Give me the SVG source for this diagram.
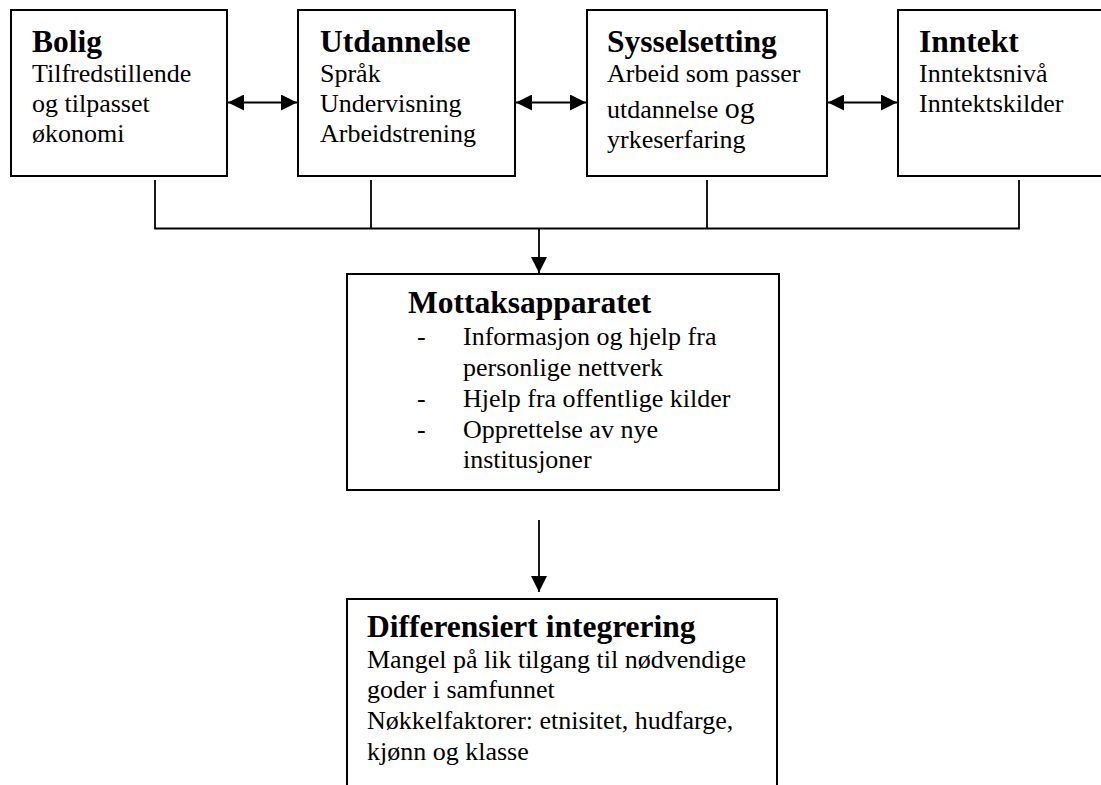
<svg xmlns="http://www.w3.org/2000/svg" width="1101" height="785" viewBox="0 0 1101 785">
<style>
.box{fill:#fff;stroke:#000;stroke-width:2}
.ln{fill:none;stroke:#000;stroke-width:1.8}
.t{font-size:31.5px;font-weight:bold}
.b{font-size:26px}
</style>
<defs>
<marker id="ah2" viewBox="0 0 10 10" refX="10" refY="5" markerWidth="16" markerHeight="16" markerUnits="userSpaceOnUse" orient="auto-start-reverse">
<path d="M0,0 L10,5 L0,10 Z" fill="#000"/>
</marker>
</defs>
<rect width="1101" height="785" fill="#fff"/>
<g id="connectors">
<line class="ln" x1="228" y1="102.5" x2="297" y2="102.5" marker-start="url(#ah2)" marker-end="url(#ah2)"/>
<line class="ln" x1="516" y1="102.5" x2="586" y2="102.5" marker-start="url(#ah2)" marker-end="url(#ah2)"/>
<line class="ln" x1="828" y1="102.5" x2="897" y2="102.5" marker-start="url(#ah2)" marker-end="url(#ah2)"/>
<path class="ln" d="M155,180 V228.5 H1019 V180 M371,180 V228.5 M707,180 V228.5"/>
<line class="ln" x1="539" y1="228.5" x2="539" y2="273" marker-end="url(#ah2)"/>
<line class="ln" x1="539" y1="520" x2="539" y2="592" marker-end="url(#ah2)"/>
</g>
<g font-family="'Liberation Serif', 'Times New Roman', Times, serif" fill="#000">
<g id="bolig">
<rect class="box" x="11" y="10" width="216" height="166"/>
<text class="t" x="32" y="52">Bolig</text>
<text class="b" x="32" y="82">Tilfredstillende</text>
<text class="b" x="32" y="112">og tilpasset</text>
<text class="b" x="32" y="142">økonomi</text>
</g>
<g id="utdannelse">
<rect class="box" x="298" y="10" width="217" height="166"/>
<text class="t" x="320" y="52">Utdannelse</text>
<text class="b" x="320" y="82">Språk</text>
<text class="b" x="320" y="112">Undervisning</text>
<text class="b" x="320" y="142">Arbeidstrening</text>
</g>
<g id="sysselsetting">
<rect class="box" x="587" y="10" width="240" height="166"/>
<text class="t" x="607" y="52">Sysselsetting</text>
<text class="b" x="607" y="82">Arbeid som passer</text>
<text class="b" x="607" y="118">utdannelse <tspan font-size="30">og</tspan></text>
<text class="b" x="607" y="148">yrkeserfaring</text>
</g>
<g id="inntekt">
<rect class="box" x="898" y="10" width="220" height="166"/>
<text class="t" x="919" y="52">Inntekt</text>
<text class="b" x="919" y="82">Inntektsnivå</text>
<text class="b" x="919" y="112">Inntektskilder</text>
</g>
<g id="mottaksapparatet">
<rect class="box" x="347" y="274" width="432" height="216"/>
<text class="t" x="408" y="313">Mottaksapparatet</text>
<text class="b" x="417" y="345">-</text>
<text class="b" x="463" y="345">Informasjon og hjelp fra</text>
<text class="b" x="463" y="376">personlige nettverk</text>
<text class="b" x="417" y="407">-</text>
<text class="b" x="463" y="407">Hjelp fra offentlige kilder</text>
<text class="b" x="417" y="438">-</text>
<text class="b" x="463" y="438">Opprettelse av nye</text>
<text class="b" x="463" y="468">institusjoner</text>
</g>
<g id="differensiert">
<rect class="box" x="347" y="599" width="430" height="220"/>
<text class="t" x="367" y="637">Differensiert integrering</text>
<text class="b" x="367" y="668">Mangel på lik tilgang til nødvendige</text>
<text class="b" x="367" y="698">goder i samfunnet</text>
<text class="b" x="367" y="729">Nøkkelfaktorer: etnisitet, hudfarge,</text>
<text class="b" x="367" y="760">kjønn og klasse</text>
</g>
</g>
</svg>
